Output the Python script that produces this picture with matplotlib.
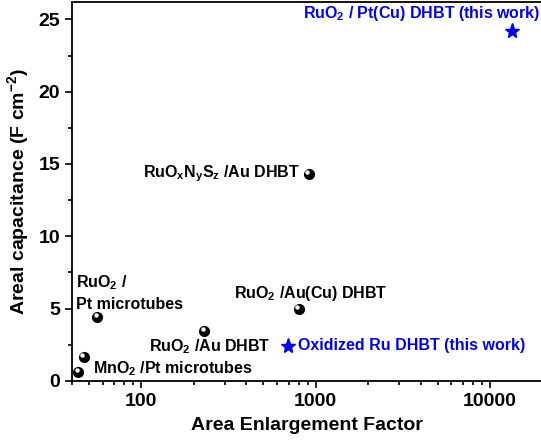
import numpy as np
import matplotlib
matplotlib.use("Agg")
import matplotlib.pyplot as plt

plt.rcParams['font.family'] = ['Liberation Sans', 'DejaVu Sans']
plt.rcParams['font.weight'] = 'bold'
plt.rcParams['mathtext.fontset'] = 'custom'
plt.rcParams['mathtext.rm'] = 'Liberation Sans:bold'
plt.rcParams['mathtext.bf'] = 'Liberation Sans:bold'
plt.rcParams['mathtext.default'] = 'bf'

# literature data (black spheres)
lit_labels = [r"RuO$_x$N$_y$S$_z$ /Au DHBT", r"RuO$_2$ /Au(Cu) DHBT", r"RuO$_2$ /Au DHBT",
              "RuO$_2$ /\nPt microtubes", "", r"MnO$_2$ /Pt microtubes"]
lit_x = [912, 798, 230, 56, 47, 43.5]
lit_y = [14.3, 5.0, 3.45, 4.45, 1.65, 0.62]

# this work (blue stars)
work_labels = [r"RuO$_2$ / Pt(Cu) DHBT (this work)", "Oxidized Ru DHBT (this work)"]
work_x = [13400, 690]
work_y = [24.2, 2.42]

# label offsets in pixels, alignment
lit_off = [(-9, 0, 'right'), (12, 15, 'center'), (5, -16, 'center'),
           (-21, 24, 'left'), (0, 0, 'left'), (15, 3, 'left')]
work_off = [(28, 17, 'right'), (10, 0, 'left')]

fig = plt.figure(figsize=(5.41, 4.44), dpi=100)
ax = fig.add_axes([0.133, 0.142, 0.867, 0.8535])

ax.plot(lit_x, lit_y, 'o', color='black', markersize=7, linestyle='none', zorder=3)
# little highlight to mimic the shaded spheres
ax.plot(lit_x, lit_y, 'o', color='white', markersize=2.2, linestyle='none', zorder=4,
        transform=ax.transData + matplotlib.transforms.ScaledTranslation(-1.2/72, 1.2/72, fig.dpi_scale_trans))
ax.plot(work_x, work_y, '*', color='#0000ff', markersize=11, linestyle='none', zorder=3)

for lab, x, y, (dx, dy, ha) in zip(lit_labels, lit_x, lit_y, lit_off):
    if lab:
        ax.annotate(lab, (x, y), xytext=(dx, dy), textcoords='offset pixels',
                    ha=ha, va='center', fontsize=11.5, fontweight='bold', linespacing=1.35)
for lab, x, y, (dx, dy, ha) in zip(work_labels, work_x, work_y, work_off):
    ax.annotate(lab, (x, y), xytext=(dx, dy), textcoords='offset pixels',
                ha=ha, va='center', fontsize=11.5, fontweight='bold', color='#0000ff')

ax.set_xscale('log')
ax.set_xlim(40, 19600)
ax.set_ylim(0, 26.2)
ax.set_yticks([0, 5, 10, 15, 20, 25])
ax.set_yticks(np.arange(2.5, 26, 5), minor=True)
ax.set_xticks([100, 1000, 10000])
ax.set_xticklabels(['100', '1000', '10000'])

ax.tick_params(which='both', direction='out', width=1.2, labelsize=14)
ax.tick_params(which='major', length=5)
ax.tick_params(which='minor', length=3)
for s in ax.spines.values():
    s.set_linewidth(1.3)
ax.spines['right'].set_visible(False)

ax.set_xlabel("Area Enlargement Factor", fontsize=14, fontweight='bold', labelpad=5)
ax.set_ylabel(r"Areal capacitance (F cm$^{-2}$)", fontsize=14, fontweight='bold', labelpad=5)

fig.savefig("out.png", dpi=100)
